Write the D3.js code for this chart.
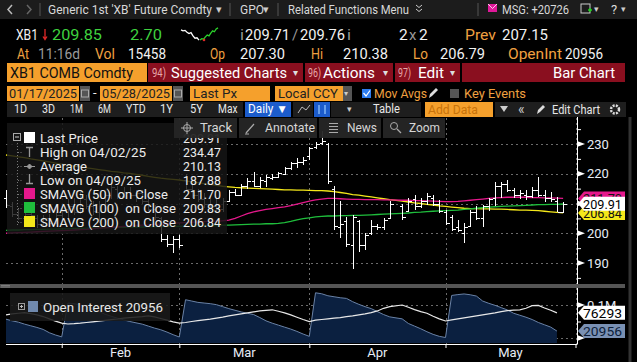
<!DOCTYPE html>
<meta charset="utf-8">
<style>
body { margin: 0; background: #000; }
svg { display: block; font-family: Roboto, "Liberation Sans", sans-serif; }
</style>
<body>
<script src="https://cdn.jsdelivr.net/npm/d3@7/dist/d3.min.js"></script>
<script>

// trading-day slots shown on the x axis (Good Friday slot is empty, last two are padding)
var slots = ["2025-01-17","2025-01-21","2025-01-22","2025-01-23","2025-01-24","2025-01-27","2025-01-28","2025-01-29","2025-01-30","2025-01-31",
  "2025-02-03","2025-02-04","2025-02-05","2025-02-06","2025-02-07","2025-02-10","2025-02-11","2025-02-12","2025-02-13","2025-02-14",
  "2025-02-18","2025-02-19","2025-02-20","2025-02-21","2025-02-24","2025-02-25","2025-02-26","2025-02-27","2025-02-28",
  "2025-03-03","2025-03-04","2025-03-05","2025-03-06","2025-03-07","2025-03-10","2025-03-11","2025-03-12","2025-03-13","2025-03-14",
  "2025-03-17","2025-03-18","2025-03-19","2025-03-20","2025-03-21","2025-03-24","2025-03-25","2025-03-26","2025-03-27","2025-03-28","2025-03-31",
  "2025-04-01","2025-04-02","2025-04-03","2025-04-04","2025-04-07","2025-04-08","2025-04-09","2025-04-10","2025-04-11",
  "2025-04-14","2025-04-15","2025-04-16","2025-04-17","2025-04-18","2025-04-21","2025-04-22","2025-04-23","2025-04-24","2025-04-25",
  "2025-04-28","2025-04-29","2025-04-30","2025-05-01","2025-05-02","2025-05-05","2025-05-06","2025-05-07","2025-05-08","2025-05-09",
  "2025-05-12","2025-05-13","2025-05-14","2025-05-15","2025-05-16","2025-05-19","2025-05-20","2025-05-21","2025-05-22","2025-05-23",
  "2025-05-27","2025-05-28","2025-05-29","2025-05-30"];

var opens = [212,209,206.5,205,206.5,205,203,205,203.5,206,
  208,209,207,211.5,209,207,210,213,215,212.5,214,213,213.5,211,208,205,198,196.5,198,
  218,215,213,211.5,210,209,208,211,214,213,216,217.5,216,217.5,218.5,219,220,222,223.5,224,225.8,
  229,230.5,230,215,202,204,196,204,196,200,202.5,202,205,null,209,207.5,211.5,209,211,212,210,207,
  205.5,202,200,202.5,207,205,209,212,216,216.5,214.5,213,213,212.5,214.5,213,212,211,207.30];
var highs = [214.5,210.5,208,207.5,208.5,206,206,206.5,207,209,
  211.5,212,214,213,211,211,214,217.2,216,215.5,215.5,214.5,214.5,212,209.5,205.5,199.5,199,199.5,
  220,217,215,213.5,212.5,211.5,212,214.5,215,216.5,218.5,220.5,219,219.5,220,220.7,222.4,224,225.2,225.7,229,
  230.8,234.47,230.3,215.8,210.8,205.6,206.2,204.5,200,204.5,203,205,210.8,null,210,211.7,212.9,211.7,213.4,212.9,211.2,207.8,
  206.1,204.5,203.4,207.8,209,209.5,212,217.3,217.3,218,215.1,214.5,214.5,215.6,219,214.5,214,212.3,210.38];
var lows = [208.5,205.5,204.5,203.5,205,201.8,202.5,202.5,203,204.5,
  205,206,206.5,208,206,203.5,209,211.5,211.5,211.8,212,210.5,210,207.5,204.5,197,195.5,193.5,195,
  214.5,212,210.5,208.5,207.5,207,207,210.5,212.5,212.5,215,215.5,215.3,215.5,218,218.5,219.6,221.3,222,223,224.5,
  228.3,229.8,216.5,201,198.3,195.5,187.88,193.8,194.4,199.5,201,201.2,205,null,204.5,207.2,207.8,208.4,209.5,209,206.7,202.8,
  200.6,200.5,196.7,202.2,204.5,202.2,207.5,209,211.7,214,211.7,211.5,211.2,211.7,212.3,210.6,210.6,207,206.79];
var closes = [209.5,206.5,205,206.5,206,203,205,203.5,206,207.5,
  209,207,212,209,207.5,210,213,215.5,212.5,214,213,213.5,211,208,205.5,198,196.5,198,196,
  215,213,211.5,210,209,208,211,214,213,216,217.5,216,218,218.8,219,220.3,222,223.5,224,224.5,228.5,
  230,231,217.5,202.5,203,196.5,205.5,196,199.5,202.5,202,204.5,210,null,205.5,211,209,211,212.5,210,207.5,203.5,
  201.5,201,202,207,205,209,211.5,216,216.5,214.5,213,213.5,212.5,214.5,213,212,211.5,207.15,209.91];

// moving averages
var sma50 = [200.0,200.1,200.2,200.3,200.4,200.5,200.6,200.7,200.8,200.9,201.0,201.1,201.2,201.3,201.5,201.7,201.8,202.0,202.1,202.3,
  202.4,202.6,202.7,202.8,203.0,203.1,203.2,203.4,203.5,203.6,203.7,203.8,203.9,204.0,204.1,204.2,204.4,205.0,205.8,206.6,
  207.2,207.6,208.0,208.3,208.6,208.9,209.3,209.8,210.3,210.8,211.2,211.5,211.7,211.7,211.6,211.5,211.4,211.4,211.3,211.3,
  211.3,211.2,211.2,null,211.1,211.1,211.0,211.0,210.9,210.8,210.7,210.6,210.6,210.7,210.9,211.1,211.3,211.5,211.7,211.9,
  212.0,212.1,212.1,212.1,212.1,212.0,212.0,211.9,211.9,211.8,211.70];
var sma100 = [201.0,201.1,201.1,201.2,201.2,201.3,201.3,201.4,201.4,201.5,201.5,201.6,201.6,201.7,201.8,201.9,201.9,202.0,202.0,202.0,
  202.1,202.1,202.1,202.2,202.2,202.2,202.3,202.3,202.3,202.4,202.4,202.5,202.5,202.6,202.6,202.7,202.7,202.8,202.9,203.0,
  203.1,203.1,203.2,203.2,203.3,203.6,204.0,204.5,204.9,205.2,205.5,205.7,205.8,205.8,205.9,205.9,206.0,206.0,206.1,206.2,
  206.3,206.4,206.5,null,206.7,206.8,207.0,207.1,207.3,207.4,207.5,207.6,207.7,207.8,208.0,208.2,208.4,208.6,208.8,208.9,
  209.0,209.1,209.2,209.3,209.4,209.5,209.6,209.6,209.7,209.7,209.83];
var sma200 = [226.3,226.0,225.7,225.4,225.0,224.7,224.3,224.0,223.6,223.2,222.9,222.6,222.3,222.0,221.7,221.4,221.1,220.8,220.6,220.3,
  220.1,219.8,219.5,219.1,218.8,218.5,218.3,218.1,217.9,217.6,217.3,217.0,216.7,216.4,216.1,215.8,215.6,215.4,215.3,215.2,
  215.1,215.0,214.9,214.8,214.7,214.6,214.6,214.5,214.5,214.4,214.3,214.3,214.2,214.0,213.7,213.4,213.0,212.8,212.5,212.2,
  211.9,211.6,211.3,null,210.8,210.5,210.2,210.0,209.7,209.5,209.2,209.0,208.8,208.6,208.4,208.3,208.3,208.2,208.2,208.1,
  208.1,208.0,207.9,207.8,207.8,207.7,207.6,207.4,207.2,207.0,206.84];

// open interest of the generic contract (area) and the white line series
var openInt = [57000,52000,48000,42000,37000,32000,26000,16000,9000,3500,
  106000,104000,100000,95000,88000,80000,72000,66000,60000,55000,50000,46000,42000,36000,30000,25000,18000,10000,3000,
  116000,112000,108000,106000,104000,101000,95000,89000,84000,79000,75000,71000,62000,52000,45000,39000,33000,27000,20000,12000,5000,
  137000,134000,128000,125000,122000,120000,110000,102000,95000,89000,80000,71000,64000,null,58000,44000,36000,28000,19000,11000,5000,1500,
  129000,131500,133500,131000,127000,112000,105000,99000,92000,85000,75000,69000,63000,56000,47000,40000,33000,20956,null];
var oiLine = [70000,73000,75000,77000,74000,70000,65000,58000,51000,45000,
  42500,43500,45000,47000,49000,51000,53500,55500,57500,60000,62000,63500,65000,67000,64000,59000,54000,49000,45000,
  47000,50000,52500,55000,57000,60000,63000,67000,70000,73000,76000,79000,82000,84000,85500,81000,76000,70000,63000,56000,49500,
  54000,56000,58000,60000,62000,64500,67000,70000,73000,77000,82000,90000,95000,null,100000,93000,86000,80000,75000,66000,58000,51500,
  55000,58000,61000,64000,67000,70000,73000,76000,80000,83000,84500,85500,90000,98000,99000,91000,84000,76293,null];

var monthEnds = ["2025-01-31","2025-02-28","2025-03-31","2025-04-30","2025-05-30"];
var monthLabels = ["Feb","Mar","Apr","May"];
var priceTicks = [190, 200, 210, 220, 230];
var sparkWhite = [209.4,209.2,209.3,208.9,208.6,208.8,208.1,207.6,207.7,207.2];
var sparkGreen = [207.2,207.5,207.4,207.9,208.3,208.1,208.7,209.2,209.0,209.6,209.85];

var ORANGE = "#f5a02c", AMBER = "#f0a040", DRED = "#8a0f1f", MAG = "#e5188c", GRN = "#1fbe3c", YEL = "#f4e81a";

var svg = d3.select("body").append("svg").attr("width", 637).attr("height", 362);

function txt(x, y, s, color, size, len, anchor) {
  var t = svg.append("text").attr("x", x).attr("y", y).text(s)
    .style("fill", color).style("font-size", size + "px");
  if (len) t.attr("textLength", len).attr("lengthAdjust", "spacingAndGlyphs");
  if (anchor) t.style("text-anchor", anchor);
  return t;
}
function box(x, y, w, h, fill) {
  return svg.append("rect").attr("x", x).attr("y", y).attr("width", w).attr("height", h).style("fill", fill);
}

// ---------- header ----------
box(0, 0, 637, 19, "#1c1c1c");
svg.append("path").attr("d", "M12,5 L8,9.5 L12,14").style("fill", "none").style("stroke", "#bbb").style("stroke-width", 1.5);
svg.append("path").attr("d", "M27,5 L31,9.5 L27,14").style("fill", "none").style("stroke", "#666").style("stroke-width", 1.5);
[40, 230, 278, 478].forEach(function(x) {
  svg.append("line").attr("x1", x).attr("x2", x).attr("y1", 3).attr("y2", 16).style("stroke", "#555");
});
txt(48, 14, "Generic 1st 'XB' Future Comdty", "#d8d8d8", 12.5, 164);
txt(216, 13, "▾", "#ccc", 11);
txt(240, 14, "GPO", "#d8d8d8", 12.5, 24);
txt(263, 13, "▾", "#ccc", 11);
txt(288, 14, "Related Functions Menu", "#d8d8d8", 12.5, 121);
svg.append("path").attr("d", "M416,5 L419,7.5 L422,5 M416,9 L419,11.5 L422,9").style("fill", "none").style("stroke", "#ccc");
box(488, 4, 9, 8, "#e0189a");
svg.append("path").attr("d", "M488,4 L492.5,8.5 L497,4").style("fill", "none").style("stroke", "#fff").style("stroke-width", 0.8);
txt(502, 14, "MSG: +20726", "#d8d8d8", 12.5, 67);
svg.append("rect").attr("x", 581).attr("y", 4).attr("width", 9).attr("height", 9).style("fill", "none").style("stroke", "#ccc");
svg.append("path").attr("d", "M588,10 h4 M590,8 v4").style("stroke", "#2c2").style("stroke-width", 1.5);
txt(594, 12, "▾", "#ccc", 9);
txt(611, 14, "?", "#ddd", 13);
txt(621, 12, "▾", "#ccc", 9);

// quote line
txt(16, 40, "XB1", "#f2f2f2", 15, 22);
svg.append("path").attr("d", "M45,29 L45,39 M43,36.5 L45,39.5 L47,36.5").style("fill", "none").style("stroke", "#e02828").style("stroke-width", 1.3);
txt(52, 40, "209.85", "#3fd23f", 15.5, 50);
txt(130, 40, "2.70", "#3fd23f", 15.5, 32);
var sx1 = d3.scaleLinear().domain([0, sparkWhite.length - 1]).range([181, 199]);
var sx2 = d3.scaleLinear().domain([0, sparkGreen.length - 1]).range([200, 218]);
var sy = d3.scaleLinear().domain([207, 209.6]).range([41, 29]);
svg.append("path").attr("d", d3.line().x(function(d, i) { return sx1(i); }).y(sy)(sparkWhite))
  .style("fill", "none").style("stroke", "#fff").style("stroke-width", 1.3);
svg.append("path").attr("d", d3.line().x(function(d, i) { return sx2(i); }).y(sy)(sparkGreen))
  .style("fill", "none").style("stroke", "#2bd12b").style("stroke-width", 1.3);
svg.append("circle").attr("cx", 204).attr("cy", 40).attr("r", 1.3).style("fill", "#e02828");
txt(240, 40, "i", "#999", 15, 4);
txt(245, 40, "209.71", "#f2f2f2", 15.5, 45);
txt(292, 40, "/", "#999", 15);
txt(300, 40, "209.76", "#f2f2f2", 15.5, 45);
txt(347, 40, "i", "#999", 15, 4);
txt(399, 40, "2", "#f2f2f2", 15.5);
txt(409, 40, "x", "#999", 15);
txt(419, 40, "2", "#f2f2f2", 15.5);
txt(465, 40, "Prev", AMBER, 15.5, 31);
txt(502, 40, "207.15", "#f2f2f2", 15.5, 46);

txt(17, 59, "At", AMBER, 15.5, 12);
txt(38, 59, "11:16d", "#9a9a9a", 15.5, 42);
txt(95, 59, "Vol", AMBER, 15.5, 20);
txt(128, 59, "15458", "#f2f2f2", 15.5, 38);
txt(210, 59, "Op", AMBER, 15.5, 15);
txt(240, 59, "207.30", "#f2f2f2", 15.5, 45);
txt(311, 59, "Hi", AMBER, 15.5, 12);
txt(343, 59, "210.38", "#f2f2f2", 15.5, 45);
txt(413, 59, "Lo", AMBER, 15.5, 15);
txt(440, 59, "206.79", "#f2f2f2", 15.5, 45);
txt(508, 59, "OpenInt", AMBER, 15.5, 54);
txt(565, 59, "20956", "#f2f2f2", 15.5, 38);

// command row
box(7, 63, 140, 19, ORANGE);
txt(10, 78, "XB1 COMB Comdty", "#111", 15, 123);
box(148, 63, 155, 19, DRED);
txt(152, 77, "94)", "#e6a9a9", 12, 14);
txt(171, 78, "Suggested Charts", "#fff", 15, 116);
txt(293, 76, "▾", "#ddd", 10);
box(305, 63, 88, 19, DRED);
txt(308, 77, "96)", "#e6a9a9", 12, 13);
txt(323, 78, "Actions", "#fff", 15, 52);
txt(383, 76, "▾", "#ddd", 10);
box(395, 63, 65, 19, DRED);
txt(398, 77, "97)", "#e6a9a9", 12, 13);
txt(418, 78, "Edit", "#fff", 15, 26);
txt(450, 76, "▾", "#ddd", 10);
box(462, 63, 163, 19, DRED);
txt(553, 78, "Bar Chart", "#fff", 15, 62);

// date / settings row
box(7, 86, 72, 15, ORANGE);
txt(9, 98, "01/17/2025", "#222", 13, 68);
box(80, 86, 10, 15, "#555");
box(100, 86, 72, 15, ORANGE);
txt(102, 98, "05/28/2025", "#222", 13, 68);
box(173, 86, 10, 15, "#555");
[81.5, 174.5].forEach(function(x) {
  svg.append("rect").attr("x", x).attr("y", 90).attr("width", 7).attr("height", 7).style("fill", "none").style("stroke", "#aaa");
});
txt(93, 97, "-", "#eee", 13);
box(190, 86, 80, 15, ORANGE);
txt(193, 98, "Last Px", "#222", 13, 44);
box(275, 86, 68, 15, ORANGE);
txt(278, 98, "Local CCY", "#222", 13, 60);
box(343, 86, 9, 15, "#555");
txt(344, 96, "▾", "#ccc", 8);
box(362, 89, 9, 9, "#2d7df0");
svg.append("path").attr("d", "M363.5,93 L366,96 L370,90.5").style("fill", "none").style("stroke", "#fff").style("stroke-width", 1.2);
txt(374, 98, "Mov Avgs", AMBER, 13.5, 53);
svg.append("path").attr("d", "M429,98 L430,94 L436,88 L438,90 L432,96 Z").style("fill", "#ddd");
box(450, 89, 9, 9, "#555");
txt(464, 98, "Key Events", AMBER, 13.5, 62);

// period buttons row
box(7, 102, 236, 15, "#1e1e1e");
[["1D", 14], ["3D", 42], ["1M", 70], ["6M", 98], ["YTD", 126], ["1Y", 160], ["5Y", 190], ["Max", 218]].forEach(function(b) {
  txt(b[1], 113, b[0], "#e8e8e8", 12, b[0].length * 6.5);
});
box(245, 102, 46, 15, "#1c5ccc");
txt(248, 113, "Daily ▼", "#fff", 12, 40);
box(293, 102, 20, 15, "#1e1e1e");
svg.append("path").attr("d", "M298,113 L302,107 L306,110 L310,105").style("fill", "none").style("stroke", "#bbb");
box(314, 102, 16, 15, "#1c5ccc");
svg.append("path").attr("d", "M319,105 v9 M325,105 v9").style("stroke", "#9cf").style("stroke-width", 1.2);
box(331, 102, 90, 15, "#1e1e1e");
txt(347, 112, "▾", "#ccc", 9);
txt(373, 113, "Table", "#e8e8e8", 12.5, 27);
box(425, 102, 68, 15, ORANGE);
txt(428, 114, "Add Data", "#c8730a", 13, 50);
box(495, 102, 131, 15, "#1e1e1e");
svg.append("path").attr("d", "M500,106 h8 l-4,6 z").style("fill", "#ccc");
txt(518, 114, "«", "#ccc", 14);
svg.append("path").attr("d", "M537,114 L538,110 L543,105 L545,107 L540,112 Z").style("fill", "#ddd");
txt(552, 114, "Edit Chart", "#e8e8e8", 12.5, 48);
svg.append("circle").attr("cx", 615).attr("cy", 109.5).attr("r", 4).style("fill", "none").style("stroke", "#ddd").style("stroke-width", 2.5).style("stroke-dasharray", "2,1.2");

// ---------- chart ----------
var x = d3.scalePoint().domain(slots).range([6, 575.5]);
var y = d3.scaleLinear().domain([190, 230]).range([263, 144]);
var oiY = d3.scaleLinear().domain([0, 100000]).range([338, 305]);

var grid = svg.append("g").style("stroke", "#6a6a6a").style("stroke-dasharray", "2,3").style("shape-rendering", "crispEdges");
priceTicks.forEach(function(v) {
  grid.append("line").attr("x1", 6).attr("x2", 577).attr("y1", Math.round(y(v)) + 0.5).attr("y2", Math.round(y(v)) + 0.5);
});
[0, 100000].forEach(function(v) {
  grid.append("line").attr("x1", 6).attr("x2", 577).attr("y1", Math.round(oiY(v)) + 0.5).attr("y2", Math.round(oiY(v)) + 0.5);
});
monthEnds.forEach(function(d) {
  grid.append("line").attr("x1", Math.round(x(d)) + 0.5).attr("x2", Math.round(x(d)) + 0.5).attr("y1", 118).attr("y2", 344);
});

// moving averages
var maData = function(arr) {
  return slots.map(function(d, i) { return {d: d, v: arr[i]}; }).filter(function(p) { return p.v != null; });
};
var maLine = d3.line().x(function(p) { return x(p.d); }).y(function(p) { return y(p.v); });
[[sma200, YEL], [sma100, GRN], [sma50, MAG]].forEach(function(m) {
  svg.append("path").attr("d", maLine(maData(m[0])))
    .style("fill", "none").style("stroke", m[1]).style("stroke-width", 1.3);
});

// OHLC bars
var bars = slots.map(function(d, i) {
  return {d: d, o: opens[i], h: highs[i], l: lows[i], c: closes[i]};
}).filter(function(b) { return b.o != null; });
var bg = svg.append("g").style("stroke", "#fff").style("stroke-width", 1).style("shape-rendering", "crispEdges");
bars.forEach(function(b) {
  var X = Math.round(x(b.d)) + 0.5;
  bg.append("line").attr("x1", X).attr("x2", X).attr("y1", y(b.h)).attr("y2", y(b.l));
  bg.append("line").attr("x1", X - 3).attr("x2", X).attr("y1", Math.round(y(b.o)) + 0.5).attr("y2", Math.round(y(b.o)) + 0.5);
  bg.append("line").attr("x1", X).attr("x2", X + 3).attr("y1", Math.round(y(b.c)) + 0.5).attr("y2", Math.round(y(b.c)) + 0.5);
});

// lower panel: open interest
var oiData = maData(openInt);
svg.append("path")
  .attr("d", d3.area().x(function(p) { return x(p.d); }).y0(343).y1(function(p) { return oiY(p.v); })(oiData))
  .style("fill", "#0b2040");
svg.append("path")
  .attr("d", d3.line().x(function(p) { return x(p.d); }).y(function(p) { return oiY(p.v); })(oiData))
  .style("fill", "none").style("stroke", "#6a82a6").style("stroke-width", 1);
svg.append("path")
  .attr("d", d3.line().x(function(p) { return x(p.d); }).y(function(p) { return oiY(p.v); })(maData(oiLine)))
  .style("fill", "none").style("stroke", "#e8e8e8").style("stroke-width", 1.2);

// panel separator
box(0, 284, 625, 4, "#555");
svg.append("path").attr("d", "M1,285.5 h9 M1,287 h9").style("stroke", "#999").style("stroke-width", 0.6);

// ---------- legend ----------
box(7, 123, 220, 111, "rgba(22,22,22,0.84)");
svg.append("line").attr("x1", 17.5).attr("x2", 17.5).attr("y1", 143).attr("y2", 226)
  .style("stroke", "#777").style("stroke-dasharray", "1,2");
[153, 167, 181, 195, 209, 223].forEach(function(yy) {
  svg.append("line").attr("x1", 18).attr("x2", 23).attr("y1", yy - 0.5).attr("y2", yy - 0.5)
    .style("stroke", "#777").style("stroke-dasharray", "1,1.5");
});
svg.append("rect").attr("x", 13.5).attr("y", 133.5).attr("width", 7).attr("height", 7).style("fill", "#161616").style("stroke", "#aaa");
svg.append("line").attr("x1", 15).attr("x2", 19).attr("y1", 137).attr("y2", 137).style("stroke", "#ccc");
box(24, 132, 11, 11, "#fff");
svg.append("path").attr("d", "M29.5,147 v10 M26,147.5 h7").style("stroke", "#999").style("stroke-width", 1.3);
svg.append("path").attr("d", "M24,166.5 h11 M29.5,164 l2.5,2.5 l-2.5,2.5 l-2.5,-2.5 z").style("stroke", "#999").style("fill", "#999");
svg.append("path").attr("d", "M29.5,174 v10 M26,183.5 h7").style("stroke", "#999").style("stroke-width", 1.3);
box(24, 188, 11, 11, MAG);
box(24, 202, 11, 11, GRN);
box(24, 216, 11, 11, YEL);

var legLabels = ["Last Price", "High on 04/02/25", "Average", "Low on 04/09/25",
  "SMAVG (50)  on Close", "SMAVG (100)  on Close", "SMAVG (200)  on Close"];
var legValues = ["209.91", "234.47", "210.13", "187.88", "211.70", "209.83", "206.84"];
var legWidths = [58, 106, 47, 101, 128, 136, 136];
legLabels.forEach(function(s, i) {
  var t = txt(40, 143 + i * 14, s, "#ececec", 13.5, legWidths[i]);
  t.style("white-space", "pre");
  txt(221, 143 + i * 14, legValues[i], "#ececec", 13.5, 38, "end");
});

// lower legend
box(10, 293, 160, 28, "rgba(26,26,26,0.88)");
svg.append("rect").attr("x", 18.5).attr("y", 303.5).attr("width", 6).attr("height", 6).style("fill", "none").style("stroke", "#999");
svg.append("path").attr("d", "M20,306.5 h3 M21.5,305 v3").style("stroke", "#bbb");
box(28, 301, 10, 11, "#7089ad");
txt(43, 312, "Open Interest 20956", "#e8e8e8", 13.5, 120);

// floating toolbar
[[174, 63, "Track", 200, 32], [239, 78, "Annotate", 265, 50], [319, 62, "News", 347, 30], [383, 62, "Zoom", 409, 31]].forEach(function(b) {
  box(b[0], 118, b[1], 20, "rgba(38,38,38,0.95)");
  txt(b[3], 132, b[2], "#d6d6d6", 13.5, b[4]);
});
svg.append("circle").attr("cx", 187).attr("cy", 128).attr("r", 3.5).style("fill", "none").style("stroke", "#aaa");
svg.append("path").attr("d", "M181,128 h12 M187,122 v12").style("stroke", "#aaa");
svg.append("path").attr("d", "M246,133 L254,124 M245,134 h4").style("stroke", "#aaa").style("stroke-width", 1.2);
svg.append("path").attr("d", "M329,123.5 h9 M329,126.5 h9 M329,129.5 h9 M329,132.5 h9").style("stroke", "#aaa");
svg.append("circle").attr("cx", 394).attr("cy", 126).attr("r", 3.5).style("fill", "none").style("stroke", "#aaa");
svg.append("path").attr("d", "M397,129 L401,133").style("stroke", "#aaa").style("stroke-width", 1.3);

// ---------- axes ----------
var ax = svg.append("g").style("stroke", "#fff").style("shape-rendering", "crispEdges");
ax.append("line").attr("x1", 577.5).attr("x2", 577.5).attr("y1", 117).attr("y2", 284);
ax.append("line").attr("x1", 577.5).attr("x2", 577.5).attr("y1", 288).attr("y2", 344);

var yAxis = svg.append("g").attr("transform", "translate(577,0)")
  .call(d3.axisRight(y).tickValues(priceTicks).tickSize(0).tickPadding(10).tickFormat(d3.format("d")));
var yMinor = svg.append("g").attr("transform", "translate(577,0)")
  .call(d3.axisRight(y).tickValues([185, 195, 205, 215, 225, 235]).tickSize(4).tickFormat(""));
var oiAxis = svg.append("g").attr("transform", "translate(577,0)")
  .call(d3.axisRight(oiY).tickValues([100000]).tickSize(0).tickPadding(10).tickFormat(function() { return "0.1M"; }));
var oiMinor = svg.append("g").attr("transform", "translate(577,0)")
  .call(d3.axisRight(oiY).tickValues([50000]).tickSize(4).tickFormat(""));
[yAxis, yMinor, oiAxis, oiMinor].forEach(function(g) {
  g.select(".domain").remove();
  g.selectAll("line").style("stroke", "#fff");
  g.selectAll("text").style("fill", "#e6ecf5").style("font-size", "13px").style("font-family", "Roboto, sans-serif");
});
priceTicks.map(y).concat([oiY(100000), oiY(0)]).forEach(function(yy) {
  svg.append("path").attr("d", "M577," + (yy - 3) + " L585," + yy + " L577," + (yy + 3) + " Z").style("fill", "#fff");
});

var xAxis = svg.append("g").attr("transform", "translate(0,344)")
  .call(d3.axisBottom(x).tickValues(monthEnds).tickSize(4).tickFormat(""));
xAxis.select(".domain").attr("d", "M6,0.5 H577.5").style("stroke", "#fff");
xAxis.selectAll("line").style("stroke", "#fff");
monthLabels.forEach(function(m, i) {
  var mid = (x(monthEnds[i]) + x(monthEnds[i + 1])) / 2;
  txt(mid, 357, m, "#e6ecf5", 13, null, "middle");
});

// value tags on the right axis
function tag(v, scale, fill, color, label) {
  var yc = scale(v);
  svg.append("path").attr("d", "M578," + yc + " L584," + (yc - 7) + " L625," + (yc - 7) + " L625," + (yc + 7) + " L584," + (yc + 7) + " Z")
    .style("fill", fill);
  txt(583, yc + 5, label, color, 13.5, 39);
}
tag(sma50[90], y, MAG, "#111", "211.70");
tag(sma200[90], y, YEL, "#111", "206.84");
tag(closes[90], y, "#fff", "#000", "209.91");
tag(oiLine[89], oiY, "#fff", "#000", "76293");
tag(openInt[89], oiY, "#7a91b4", "#0d1e3a", "20956");

// right frame
svg.append("line").attr("x1", 630).attr("x2", 630).attr("y1", 117).attr("y2", 362).style("stroke", "#333").style("stroke-width", 3);

</script>
